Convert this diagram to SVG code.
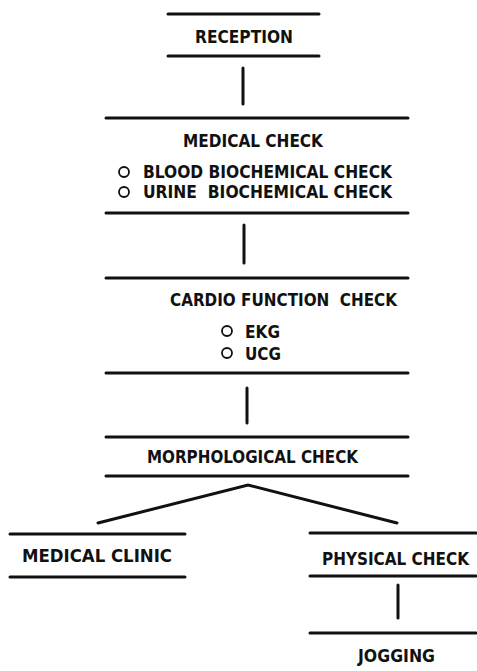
<svg xmlns="http://www.w3.org/2000/svg" width="477" height="671" viewBox="0 0 477 671">
<style>
.bar{stroke:#111;stroke-width:3;stroke-linecap:round;fill:none}
.con{stroke:#111;stroke-width:3;stroke-linecap:round;fill:none}
.dot{stroke:#111;stroke-width:1.8;fill:none}
text{font-family:"DejaVu Sans Condensed","DejaVu Sans",sans-serif;font-weight:bold;font-size:18.5px;fill:#111}
</style>
<rect width="477" height="671" fill="#fff"/>
<g id="connectors">
<line class="con" x1="243" y1="68" x2="243" y2="104"/>
<line class="con" x1="244" y1="225" x2="244" y2="263"/>
<line class="con" x1="247" y1="388" x2="247" y2="423"/>
<polyline class="con" points="98,523 248,485 397,523"/>
<line class="con" x1="398" y1="585" x2="398" y2="618"/>
</g>
<g id="reception">
<line class="bar" x1="168" y1="14" x2="319" y2="14"/>
<text x="195" y="43" textLength="98" lengthAdjust="spacingAndGlyphs">RECEPTION</text>
<line class="bar" x1="168" y1="56" x2="319" y2="56"/>
</g>
<g id="medical-check">
<line class="bar" x1="106" y1="118" x2="408" y2="118"/>
<text x="183" y="147" textLength="140" lengthAdjust="spacingAndGlyphs">MEDICAL CHECK</text>
<circle class="dot" cx="124" cy="172" r="5"/>
<text x="143" y="178" textLength="249" lengthAdjust="spacingAndGlyphs">BLOOD BIOCHEMICAL CHECK</text>
<circle class="dot" cx="124" cy="192" r="5"/>
<text x="143" y="198" textLength="249" lengthAdjust="spacingAndGlyphs" xml:space="preserve">URINE  BIOCHEMICAL CHECK</text>
<line class="bar" x1="106" y1="213" x2="408" y2="213"/>
</g>
<g id="cardio-function-check">
<line class="bar" x1="106" y1="278" x2="408" y2="278"/>
<text x="170" y="306" textLength="227" lengthAdjust="spacingAndGlyphs" xml:space="preserve">CARDIO FUNCTION  CHECK</text>
<circle class="dot" cx="227" cy="331" r="5"/>
<text x="245" y="338" textLength="35" lengthAdjust="spacingAndGlyphs">EKG</text>
<circle class="dot" cx="227" cy="353" r="5"/>
<text x="245" y="360" textLength="36" lengthAdjust="spacingAndGlyphs">UCG</text>
<line class="bar" x1="106" y1="373" x2="408" y2="373"/>
</g>
<g id="morphological-check">
<line class="bar" x1="106" y1="437" x2="408" y2="437"/>
<text x="147" y="463" textLength="211" lengthAdjust="spacingAndGlyphs">MORPHOLOGICAL CHECK</text>
<line class="bar" x1="106" y1="476" x2="408" y2="476"/>
</g>
<g id="medical-clinic">
<line class="bar" x1="10" y1="534" x2="185" y2="534"/>
<text x="22" y="562" textLength="150" lengthAdjust="spacingAndGlyphs">MEDICAL CLINIC</text>
<line class="bar" x1="10" y1="577" x2="185" y2="577"/>
</g>
<g id="physical-check">
<line class="bar" x1="310" y1="533" x2="476" y2="533"/>
<text x="322" y="565" textLength="147" lengthAdjust="spacingAndGlyphs" style="font-size:17px">PHYSICAL CHECK</text>
<line class="bar" x1="310" y1="576" x2="476" y2="576"/>
</g>
<g id="jogging">
<line class="bar" x1="310" y1="633" x2="476" y2="633"/>
<text x="358" y="662" textLength="77" lengthAdjust="spacingAndGlyphs">JOGGING</text>
</g>
</svg>
